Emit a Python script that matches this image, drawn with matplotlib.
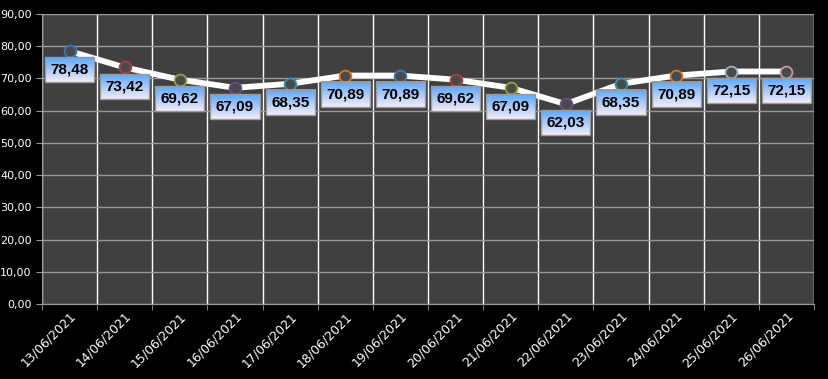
import matplotlib.pyplot as plt
import numpy as np
from matplotlib.colors import LinearSegmentedColormap

# Daily values
dates = ["13/06/2021", "14/06/2021", "15/06/2021", "16/06/2021", "17/06/2021",
         "18/06/2021", "19/06/2021", "20/06/2021", "21/06/2021", "22/06/2021",
         "23/06/2021", "24/06/2021", "25/06/2021", "26/06/2021"]
values = [78.48, 73.42, 69.62, 67.09, 68.35, 70.89, 70.89, 69.62, 67.09, 62.03,
          68.35, 70.89, 72.15, 72.15]
yticks = [0, 10, 20, 30, 40, 50, 60, 70, 80, 90]

# rim colours of the sphere markers
rim_colors = ["#3a78b8", "#b83a3a", "#8aa838", "#6a4a8a", "#2a9ab0", "#d07828",
              "#3a78b8", "#b83a3a", "#8aa838", "#6a4a8a", "#2a9ab0", "#d07828",
              "#9ab0c8", "#c89a9a"]

fig = plt.figure(figsize=(8.29, 3.79), dpi=100, facecolor="black")
ax = fig.add_axes([42 / 829, 75 / 379, 772 / 829, 290 / 379])
ax.set_facecolor("#404040")

x = np.arange(len(values))
ax.plot(x, values, color="white", linewidth=4.2, zorder=3, solid_capstyle="round")
labels = []
for xi, v, c in zip(x, values, rim_colors):
    ax.plot(xi, v, marker="o", markersize=8.5, markerfacecolor="#4a4a4a",
            markeredgecolor=c, markeredgewidth=1.3, zorder=4)
    t = ax.annotate(f"{v:.2f}".replace(".", ","), (xi, v), xytext=(0, -8.5),
                    textcoords="offset points", ha="center", va="top",
                    fontsize=11, fontweight="bold", family="Liberation Sans",
                    color="black", zorder=6,
                    bbox=dict(boxstyle="square,pad=0.36", facecolor="none",
                              edgecolor="#9a9a9a", linewidth=1))
    labels.append(t)

ax.set_xlim(-0.5, len(values) - 0.5)
ax.set_ylim(0, 90)

ax.set_yticks(yticks)
ax.set_yticklabels([f"{t:.2f}".replace(".", ",") for t in yticks])
ax.set_xticks(x)
ax.set_xticklabels(dates, rotation=45, ha="right", rotation_mode="anchor")
ax.set_xticks(np.arange(len(values) + 1) - 0.5, minor=True)

ax.grid(axis="y", which="major", color="#9a9a9a", linewidth=1)
ax.grid(axis="x", which="minor", color="white", linewidth=1)
ax.set_axisbelow(True)

ax.tick_params(axis="x", which="major", length=0, colors="white", labelsize=9, pad=4)
ax.tick_params(axis="x", which="minor", length=4, color="#9a9a9a")
ax.tick_params(axis="y", length=4, color="#9a9a9a", labelcolor="white", labelsize=8)

for side in ["top", "right"]:
    ax.spines[side].set_visible(False)
for side in ["left", "bottom"]:
    ax.spines[side].set_color("#9a9a9a")

# gradient fill behind each data label box (blue on top, pale at the bottom)
grad = LinearSegmentedColormap.from_list("lbl", ["#f4ecfa", "#5aa8fc"])
fig.canvas.draw()
inv = ax.transData.inverted()
for t in labels:
    bb = t.get_bbox_patch().get_window_extent()
    (x0, y0), (x1, y1) = inv.transform([(bb.x0, bb.y0), (bb.x1, bb.y1)])
    ax.imshow(np.linspace(0, 1, 64).reshape(-1, 1), cmap=grad, origin="lower",
              extent=(x0, x1, y0, y1), aspect="auto", zorder=5)
ax.set_xlim(-0.5, len(values) - 0.5)
ax.set_ylim(0, 90)

fig.savefig("out.png", dpi=100, facecolor="black")
